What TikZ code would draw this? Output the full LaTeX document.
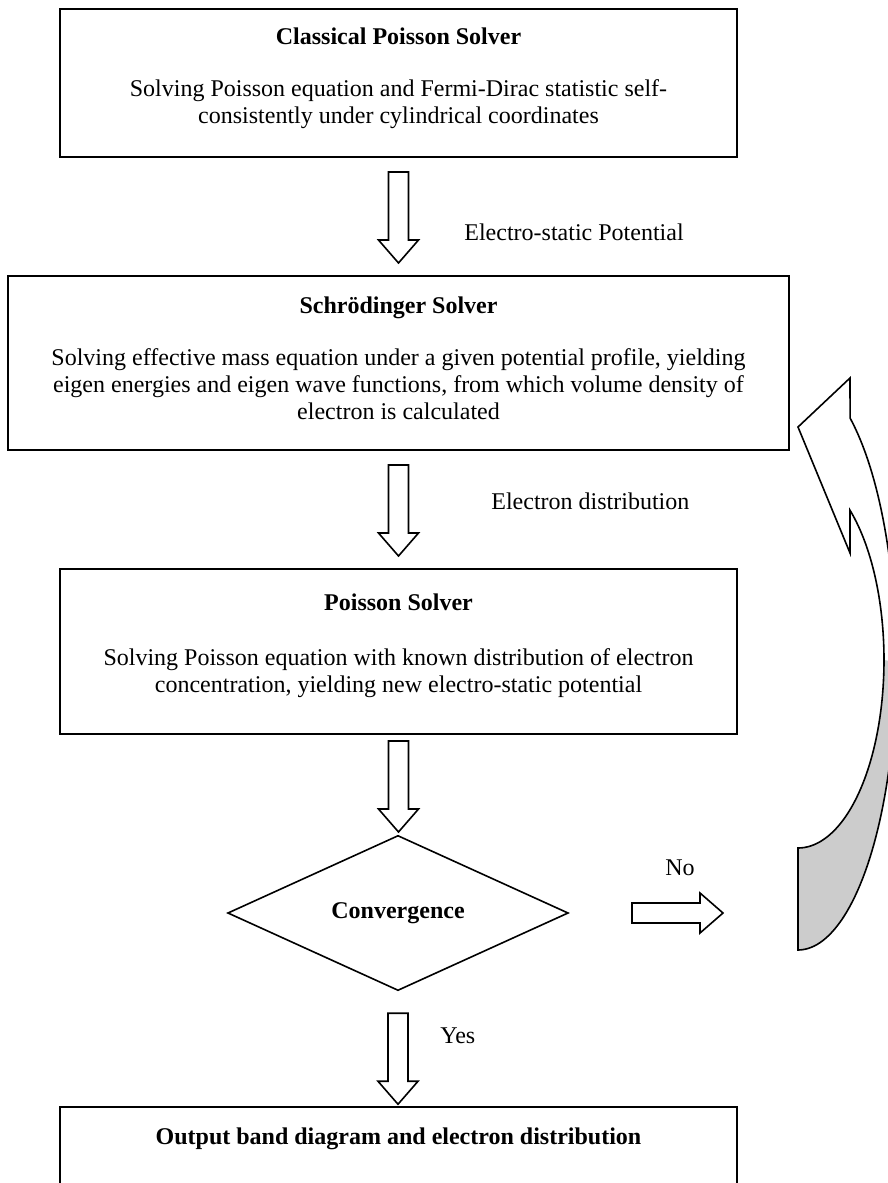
\documentclass[tikz,border=0pt]{standalone}
\usepackage{fontspec}
\setmainfont{Liberation Serif}
\usetikzlibrary{shapes.geometric,positioning}

\begin{document}
\begin{tikzpicture}[
		x=0.5pt, y=-0.5pt,
		font=\fontsize{12}{13.5}\selectfont,
		solverbox/.style={draw, line width=1pt, inner sep=0pt, outer sep=0pt, anchor=north west},
		boxtitle/.style={font=\fontsize{12}{13.5}\selectfont\bfseries, inner sep=0pt},
		boxtext/.style={align=center, inner sep=0pt},
		decision/.style={draw, diamond, line width=0.8pt, inner sep=0pt, outer sep=0pt,
			minimum width=170pt, minimum height=66pt, font=\fontsize{12}{13.5}\selectfont\bfseries},
		flowlab/.style={anchor=west, inner sep=0pt},
		blockline/.style={line width=0.8pt, line join=miter},
		backface/.style={fill=black!20},
		blockarrow/.pic={
			\draw[blockline] (-10,0) -- (10,0) -- (10,68) -- (20,68) -- (0,91) -- (-20,68) -- (-10,68) -- cycle;
		}
	]
	
	% Page in pixel units, y pointing down
	\path[use as bounding box, clip] (0,0) rectangle (888,1183);
	
	% Classical solver
	\node[solverbox, minimum width=338.5pt, minimum height=74pt] (classic) at (60,9) {};
	\node[boxtitle] (classictitle) at ([yshift=-13.5pt]classic.north) {Classical Poisson Solver};
	\node[boxtext] (classictext) at ([yshift=-47.5pt]classic.north)
	{Solving Poisson equation and Fermi-Dirac statistic self-\\consistently under cylindrical coordinates};
	
	\path ([yshift=-7.5pt]classic.south) pic{blockarrow};
	\node[flowlab] (potlab) at (464,232) {Electro-static Potential};
	
	% Schroedinger solver
	\node[solverbox, minimum width=390.5pt, minimum height=87pt] (schrod) at (8,276) {};
	\node[boxtitle] (schrodtitle) at ([yshift=-16pt]schrod.north) {Schrödinger Solver};
	\node[boxtext] (schrodtext) at ([yshift=-54pt]schrod.north)
	{Solving effective mass equation under a given potential profile, yielding\\
		eigen energies and eigen wave functions, from which volume density of\\
		electron is calculated};
	
	\path ([yshift=-7.5pt]schrod.south) pic{blockarrow};
	\node[flowlab] (distlab) at (491,501) {Electron distribution};
	
	% Poisson solver
	\node[solverbox, minimum width=338.5pt, minimum height=82.5pt] (poisson) at (60,569) {};
	\node[boxtitle] (poissontitle) at ([yshift=-16.5pt]poisson.north) {Poisson Solver};
	\node[boxtext] (poissontext) at ([yshift=-52pt]poisson.north)
	{Solving Poisson equation with known distribution of electron\\
		concentration, yielding new electro-static potential};
	
	\path ([yshift=-3.5pt]poisson.south) pic{blockarrow};
	
	% Convergence check
	\node[decision] (conv) at (398,913) {Convergence};
	\path ([xshift=32pt]conv.east) pic[rotate=90]{blockarrow};
	\node (nolab) at (680,868) {No};
	
	\path ([yshift=-11.5pt]conv.south) pic{blockarrow};
	\node[flowlab] (yeslab) at (440,1036) {Yes};
	
	% Output
	\node[solverbox, minimum width=338.5pt, minimum height=60pt] (output) at (60,1107) {};
	\node[boxtitle] (outputtitle) at ([yshift=-16pt]output.north) {Output band diagram and electron distribution};
	
	% Curved return arrow (inner edge, outer edge, shaded back)
	\fill[backface]
	plot[domain=0:90, samples=40] ({798+86*cos(\x)},{660+188*sin(\x)})
	-- plot[domain=90:0, samples=40] ({798+98*cos(\x)},{662+288*sin(\x)}) -- cycle;
	\draw[blockline]
	plot[domain=90:-57.9, samples=80] ({798+98*cos(\x)},{662+288*sin(\x)})
	-- (850,378) -- (798,427) -- (850,553)
	-- plot[domain=-52.8:90, samples=80] ({798+86*cos(\x)},{660+188*sin(\x)}) -- cycle;
	
\end{tikzpicture}
\end{document}
